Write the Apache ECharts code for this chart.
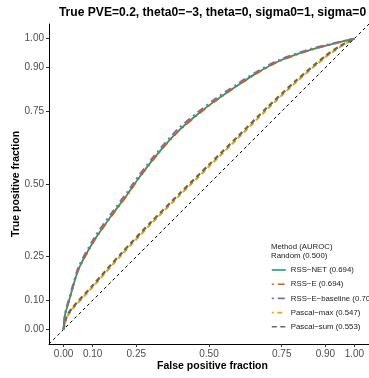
<!DOCTYPE html>
<html><head><meta charset="utf-8">
<script src="https://cdn.jsdelivr.net/npm/echarts@6/dist/echarts.min.js"></script>
<style>html,body{margin:0;padding:0;background:#fff}#c{width:369px;height:378px}</style>
</head><body><div id="c"></div>
<script>
const titleText = 'True PVE=0.2, theta0=\u22123, theta=0, sigma0=1, sigma=0';
const xTitle = 'False positive fraction';
const yTitle = 'True positive fraction';
const tickValues = [0, 0.1, 0.25, 0.5, 0.75, 0.9, 1];
const legendHeader = ['Method (AUROC)', 'Random (0.500)'];
const seriesNames = ['RSS\u2212NET (0.694)', 'RSS\u2212E (0.694)', 'RSS\u2212E\u2212baseline (0.703)', 'Pascal\u2212max (0.547)', 'Pascal\u2212sum (0.553)'];
const seriesColors = ['#1B9E77', '#D95F02', '#7570B3', '#E6AB02', '#666666'];

const rssFpr     = [0, 0.005, 0.023, 0.051, 0.107, 0.163, 0.219, 0.258, 0.326, 0.393, 0.460, 0.527, 0.594, 0.655, 0.739, 0.851, 0.963, 1];
const rssNetTpr  = [0, 0.050, 0.113, 0.206, 0.309, 0.389, 0.464, 0.520, 0.607, 0.681, 0.739, 0.790, 0.836, 0.876, 0.922, 0.962, 0.991, 1];
const rssETpr    = [0, 0.049, 0.112, 0.204, 0.307, 0.387, 0.462, 0.518, 0.605, 0.679, 0.737, 0.789, 0.835, 0.875, 0.921, 0.961, 0.991, 1];
const rssBaseTpr = [0, 0.056, 0.121, 0.214, 0.318, 0.398, 0.473, 0.528, 0.615, 0.689, 0.746, 0.797, 0.842, 0.881, 0.926, 0.965, 0.992, 1];

const pascalFpr    = [0, 0.010, 0.030, 0.100, 0.200, 0.300, 0.400, 0.500, 0.600, 0.700, 0.800, 0.900, 0.950, 1];
const pascalMaxTpr = [0, 0.040, 0.070, 0.146, 0.257, 0.362, 0.462, 0.560, 0.658, 0.757, 0.851, 0.936, 0.971, 1];
const pascalSumTpr = [0, 0.043, 0.074, 0.151, 0.263, 0.368, 0.468, 0.566, 0.664, 0.763, 0.856, 0.940, 0.974, 1];

const diagonalEnds = [-0.05, 1.05];

const FONT = 'Liberation Sans, Arial, Helvetica, sans-serif';
const zip = (xs, ys) => xs.map((x, i) => [x, ys[i]]);

const chart = echarts.init(document.getElementById('c'), null, {renderer: 'canvas'});
const lineSeries = (name, data, color, width, type, z, dashOffset) => ({
  name, type: 'line', data, symbol: 'none', smooth: 0.25, z,
  lineStyle: {color, width, type, dashOffset: dashOffset || 0}, itemStyle: {color}, silent: true, animation: false
});
chart.setOption({
  animation: false,
  backgroundColor: '#fff',
  grid: {left: 49, top: 24, width: 327, height: 320, containLabel: false},
  xAxis: {
    type: 'value', min: -0.05, max: 1.05,
    axisLine: {show: true, onZero: false, lineStyle: {color: '#000', width: 1}},
    axisTick: {show: true, length: 3, lineStyle: {color: '#333'}, customValues: tickValues},
    axisLabel: {customValues: tickValues, formatter: v => v.toFixed(2), color: '#4D4D4D', fontSize: 10, fontFamily: FONT, margin: 5},
    splitLine: {show: false}
  },
  yAxis: {
    type: 'value', min: -0.05, max: 1.05,
    axisLine: {show: true, onZero: false, lineStyle: {color: '#000', width: 1}},
    axisTick: {show: true, length: 3, lineStyle: {color: '#333'}, customValues: tickValues},
    axisLabel: {customValues: tickValues, formatter: v => v.toFixed(2), color: '#4D4D4D', fontSize: 10, fontFamily: FONT, margin: 5},
    splitLine: {show: false}
  },
  legend: {
    data: seriesNames, orient: 'vertical', left: 266, top: 261,
    itemWidth: 14, itemHeight: 8, itemGap: 6.2, selectedMode: false,
    itemStyle: {opacity: 0},
    lineStyle: {width: 1.6},
    textStyle: {fontSize: 7.8, color: '#1a1a1a', fontFamily: FONT}
  },
  graphic: [
    {type: 'text', x: 212.5, y: 13, style: {text: titleText, font: 'bold 12.1px ' + FONT, fill: '#000', textAlign: 'center', textVerticalAlign: 'middle'}},
    {type: 'text', x: 212.5, y: 366, style: {text: xTitle, font: 'bold 10.5px ' + FONT, fill: '#000', textAlign: 'center', textVerticalAlign: 'middle'}},
    {type: 'text', x: 16.5, y: 184, rotation: Math.PI / 2, style: {text: yTitle, font: 'bold 10.5px ' + FONT, fill: '#000', textAlign: 'center', textVerticalAlign: 'middle'}},
    {type: 'text', x: 271, y: 247, style: {text: legendHeader[0], font: '7.8px ' + FONT, fill: '#1a1a1a', textAlign: 'left', textVerticalAlign: 'middle'}},
    {type: 'text', x: 271, y: 256, style: {text: legendHeader[1], font: '7.8px ' + FONT, fill: '#1a1a1a', textAlign: 'left', textVerticalAlign: 'middle'}}
  ],
  series: [
    {type: 'line', name: 'Random', data: zip(diagonalEnds, diagonalEnds), symbol: 'none', z: 1,
     lineStyle: {color: '#000', width: 1, type: [3, 3]}, silent: true},
    lineSeries(seriesNames[3], zip(pascalFpr, pascalMaxTpr), seriesColors[3], 2.3, [5, 3.5], 2, 3),
    lineSeries(seriesNames[4], zip(pascalFpr, pascalSumTpr), seriesColors[4], 2.3, [5, 3.5], 3, 0),
    lineSeries(seriesNames[0], zip(rssFpr, rssNetTpr), seriesColors[0], 1.8, 'solid', 4),
    lineSeries(seriesNames[1], zip(rssFpr, rssETpr), seriesColors[1], 1.8, [2, 4, 7, 4], 5),
    lineSeries(seriesNames[2], zip(rssFpr, rssBaseTpr), seriesColors[2], 1.8, [2, 4, 7, 4], 6)
  ]
});
</script></body></html>
